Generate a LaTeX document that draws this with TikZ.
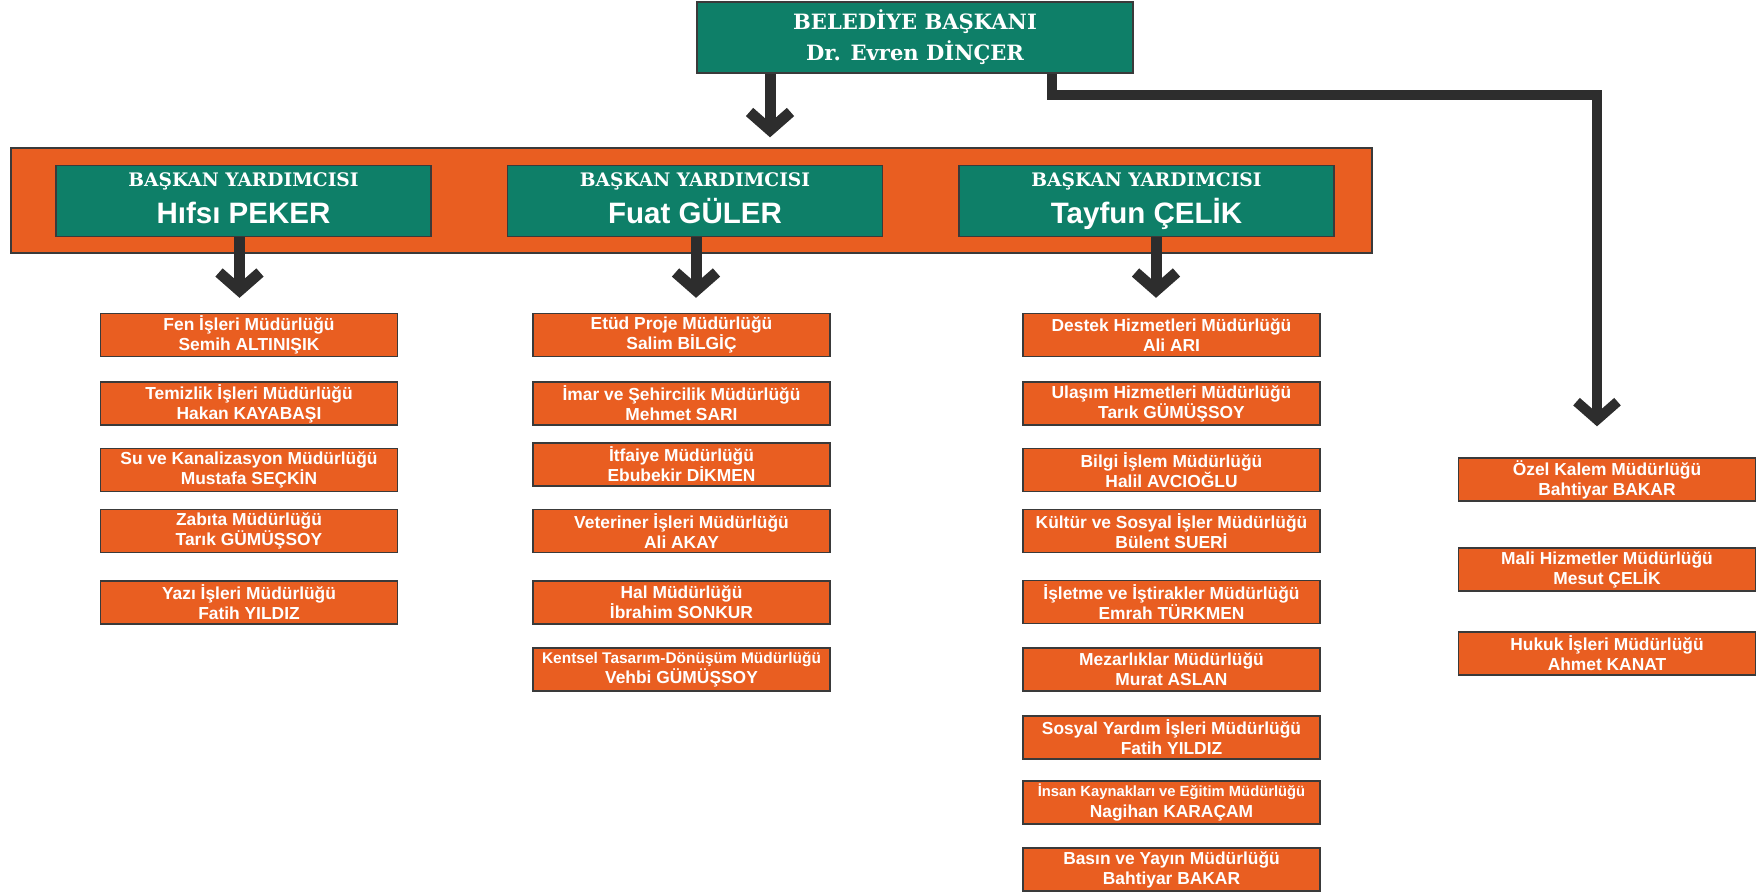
\documentclass[tikz,border=0pt]{standalone}
\usepackage{fontspec}
\setsansfont{Liberation Sans}
\newfontfamily\titlefont{DejaVu Serif}
\usepackage{tikz}
\usetikzlibrary{arrows.meta}

\definecolor{orangebox}{RGB}{233,94,33}
\definecolor{greenbox}{RGB}{14,127,104}
\definecolor{edgegray}{RGB}{58,58,58}
\definecolor{arrowgray}{RGB}{45,45,45}

\newcommand{\vptext}[1]{{\titlefont\bfseries BAŞKAN YARDIMCISI}\\{\sffamily\bfseries\fontsize{16.8}{21}\selectfont #1\vphantom{Çy}}}

\tikzset{
  unit/.style={draw=edgegray, line width=0.8pt, fill=orangebox, text=white,
    minimum width=5.94cm, minimum height=0.86cm, inner sep=0pt, align=center,
    font=\sffamily\bfseries\fontsize{9.9}{11.4}\selectfont},
  vp/.style={draw=edgegray, line width=0.9pt, fill=greenbox, text=white,
    minimum width=7.5cm, minimum height=1.42cm, inner sep=0pt, align=center,
    font=\fontsize{10.6}{21}\selectfont},
  conn/.style={draw=arrowgray, line width=0.22cm, line join=miter,
    -{Straight Barb[length=0.36cm,width=0.82cm,sharp]}},
}

\begin{document}
\begin{tikzpicture}[x=0.02cm, y=-0.02cm]
	\useasboundingbox (0,0) rectangle (1760,892);
	\node (mayor) [vp, minimum width=8.72cm, font=\titlefont\bfseries\fontsize{12}{17.6}\selectfont] at (915,37.5) {BELEDİYE BAŞKANI\\Dr. Evren DİNÇER};
	\node (band) [draw=edgegray, line width=0.8pt, fill=orangebox, minimum width=27.22cm, minimum height=2.1cm, inner sep=0pt] at (691.5,200.5) {};
	\node (vp1) [vp] at (243.5,201) {\vptext{Hıfsı PEKER}};
	\node (vp2) [vp] at (695,201) {\vptext{Fuat GÜLER}};
	\node (vp3) [vp] at (1146.5,201) {\vptext{Tayfun ÇELİK}};

	\node (a1) [unit] at (249,335) {Fen İşleri Müdürlüğü\\Semih ALTINIŞIK};
	\node (a2) [unit] at (249,403.5) {Temizlik İşleri Müdürlüğü\\Hakan KAYABAŞI};
	\node (a3) [unit] at (249,470) {Su ve Kanalizasyon Müdürlüğü\\Mustafa SEÇKİN};
	\node (a4) [unit] at (249,531) {Zabıta Müdürlüğü\\Tarık GÜMÜŞSOY};
	\node (a5) [unit] at (249,602.5) {Yazı İşleri Müdürlüğü\\Fatih YILDIZ};

	\node (b1) [unit] at (681.5,335) {Etüd Proje Müdürlüğü\\Salim BİLGİÇ};
	\node (b2) [unit] at (681.5,403.5) {İmar ve Şehircilik Müdürlüğü\\Mehmet SARI};
	\node (b3) [unit] at (681.5,464.5) {İtfaiye Müdürlüğü\\Ebubekir DİKMEN};
	\node (b4) [unit] at (681.5,531) {Veteriner İşleri Müdürlüğü\\Ali AKAY};
	\node (b5) [unit] at (681.5,602.5) {Hal Müdürlüğü\\İbrahim SONKUR};
	\node (b6) [unit] at (681.5,669.5) {{\fontsize{8.8}{11.4}\selectfont Kentsel Tasarım-Dönüşüm Müdürlüğü}\\Vehbi GÜMÜŞSOY};

	\node (c1) [unit] at (1171.5,335) {Destek Hizmetleri Müdürlüğü\\Ali ARI};
	\node (c2) [unit] at (1171.5,403.5) {Ulaşım Hizmetleri Müdürlüğü\\Tarık GÜMÜŞSOY};
	\node (c3) [unit] at (1171.5,470) {Bilgi İşlem Müdürlüğü\\Halil AVCIOĞLU};
	\node (c4) [unit] at (1171.5,531) {Kültür ve Sosyal İşler Müdürlüğü\\Bülent SUERİ};
	\node (c5) [unit] at (1171.5,602) {İşletme ve İştirakler Müdürlüğü\\Emrah TÜRKMEN};
	\node (c6) [unit] at (1171.5,669.5) {Mezarlıklar Müdürlüğü\\Murat ASLAN};
	\node (c7) [unit] at (1171.5,737.5) {Sosyal Yardım İşleri Müdürlüğü\\Fatih YILDIZ};
	\node (c8) [unit] at (1171.5,802.5) {{\fontsize{8.4}{11.4}\selectfont İnsan Kaynakları ve Eğitim Müdürlüğü}\\Nagihan KARAÇAM};
	\node (c9) [unit] at (1171.5,869.5) {Basın ve Yayın Müdürlüğü\\Bahtiyar BAKAR};

	\node (o1) [unit] at (1607,479.5) {Özel Kalem Müdürlüğü\\Bahtiyar BAKAR};
	\node (o2) [unit] at (1607,569.5) {Mali Hizmetler Müdürlüğü\\Mesut ÇELİK};
	\node (o3) [unit] at (1607,653.5) {Hukuk İşleri Müdürlüğü\\Ahmet KANAT};

	\coordinate (r1) at (1052,95);
	\coordinate (r2) at (1597,95);
	\draw [conn, shorten >=0.2cm] ([xshift=-2.9cm]mayor.south) -- ([xshift=-2.9cm]mayor.south |- band.north);
	\draw [conn, line width=0.2cm, shorten >=0.62cm] (mayor.south -| r1) -- (r1) -- (r2) -- (r2 |- o1.north);
	\draw [conn, shorten >=0.3cm] ([xshift=-0.08cm]vp1.south) -- ([xshift=-0.08cm]vp1.south |- a1.north);
	\draw [conn, shorten >=0.3cm] ([xshift=0.02cm]vp2.south) -- ([xshift=0.02cm]vp2.south |- b1.north);
	\draw [conn, shorten >=0.3cm] ([xshift=0.19cm]vp3.south) -- ([xshift=0.19cm]vp3.south |- c1.north);
\end{tikzpicture}
\end{document}
